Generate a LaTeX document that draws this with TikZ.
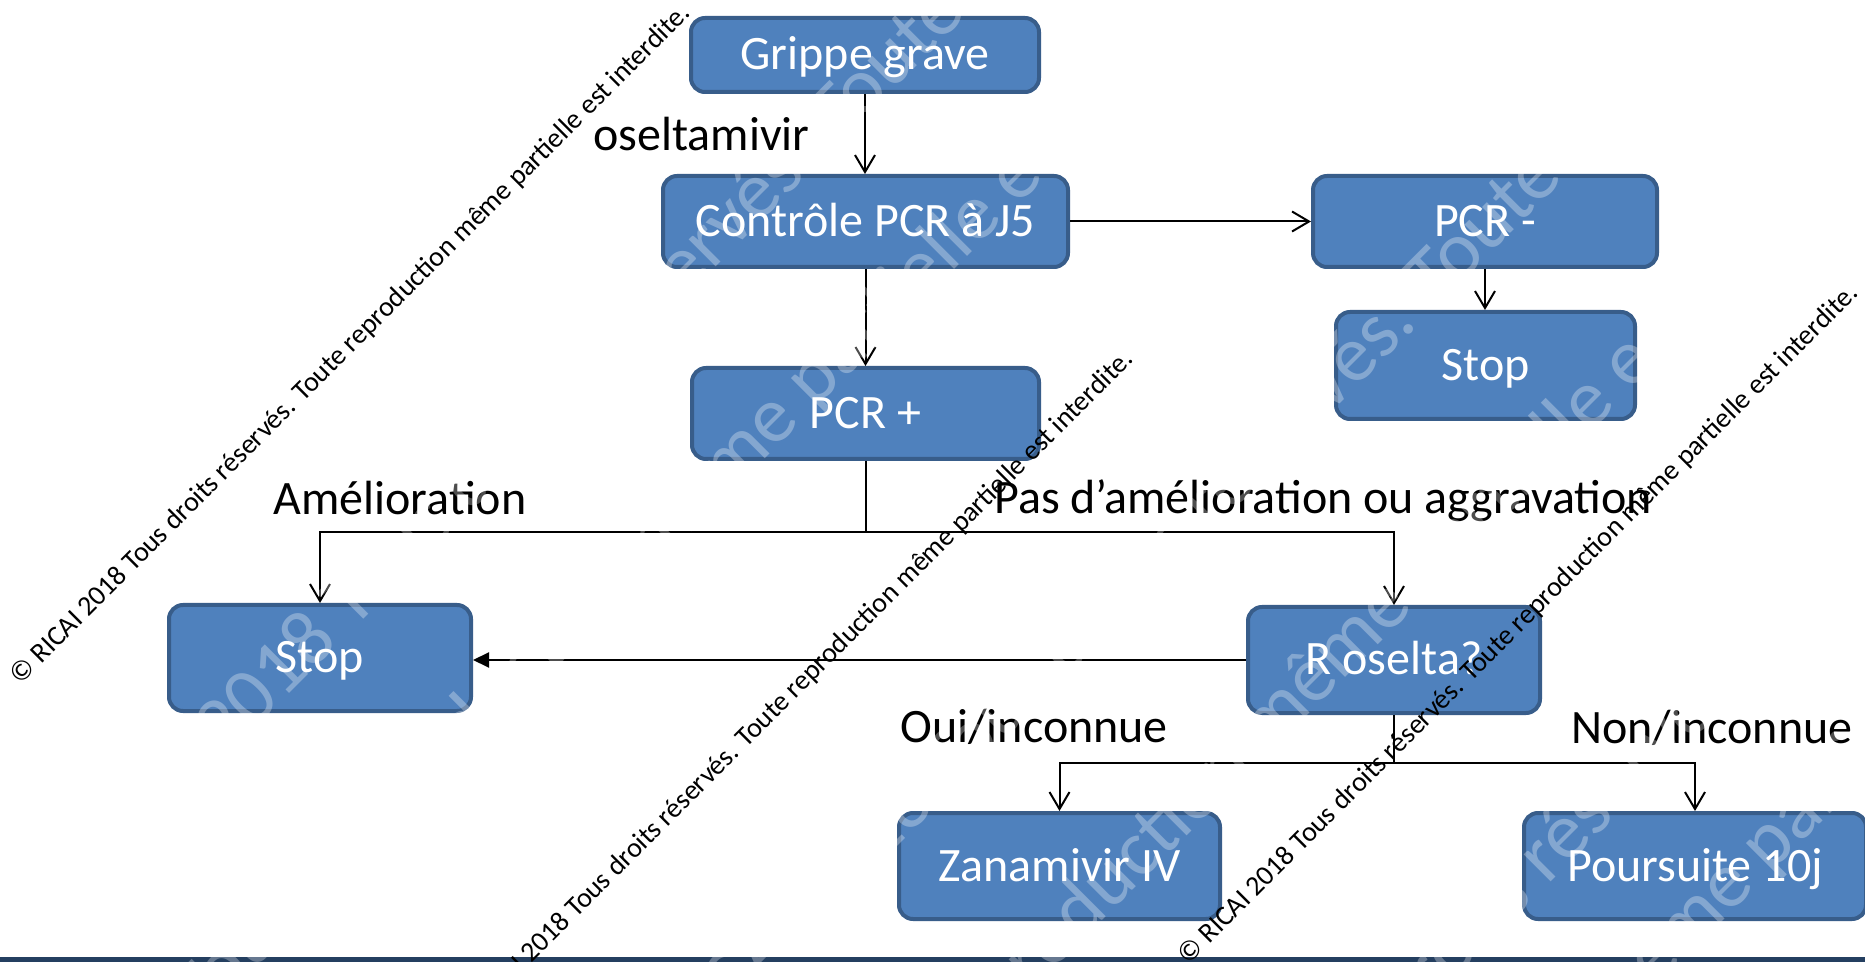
\documentclass[tikz,border=0pt]{standalone}
\usepackage{fontspec}
\setmainfont{Carlito}
\usetikzlibrary{arrows.meta}
\definecolor{boxfill}{HTML}{4F81BD}
\definecolor{boxline}{HTML}{385D8A}
\definecolor{band}{HTML}{243F60}
\tikzset{
  box/.style={draw=boxline, fill=boxfill, line width=2pt, rounded corners=7pt,
    text=white, font=\fontsize{24}{28}\selectfont, inner sep=0pt,
    text height=20pt, text depth=5pt, align=center},
  lbl/.style={font=\fontsize{24}{28}\selectfont, inner sep=0pt, anchor=base west},
  conn/.style={line width=1pt, -{Straight Barb[length=8.5pt,width=10pt]}},
  connf/.style={line width=1pt, -{Triangle[length=8pt,width=7.5pt]}},
  plain/.style={line width=1pt},
  wmbig/.style={rotate=45, anchor=base west, inner sep=0pt, text=white,
    text opacity=0.3, font=\fontsize{40}{48}\selectfont},
  wmsmall/.style={rotate=45, anchor=base west, inner sep=0pt, text=black,
    font=\fontsize{14}{17}\selectfont},
}
\newcommand{\wmtext}{© RICAI 2018 Tous droits réservés. Toute reproduction même partielle est interdite.}
\begin{document}
\begin{tikzpicture}[x=0.5pt,y=-0.5pt]
\useasboundingbox (0,0) rectangle (1865,962);
\clip (0,0) rectangle (1865,962);
\fill[white] (0,0) rectangle (1865,962);
\fill[band] (0,957) rectangle (1865,962);

% boxes
\node[box, minimum width=174pt, minimum height=37pt] (grippe) at (865,55) {Grippe grave};
\node[box, minimum width=202.5pt, minimum height=45.5pt] (ctrl) at (865.5,221.5) {Contrôle PCR à J5};
\node[box, minimum width=172pt, minimum height=45.5pt] (pcrm) at (1485,221.5) {PCR -};
\node[box, minimum width=149.5pt, minimum height=53.5pt] (stopr) at (1485.5,365.5) {Stop};
\node[box, minimum width=173.5pt, minimum height=45.5pt] (pcrp) at (865.5,413.5) {PCR +};
\node[box, minimum width=151pt, minimum height=53pt] (stopl) at (320,658) {Stop};
\node[box, minimum width=146pt, minimum height=53pt] (rosel) at (1394,660) {R oselta?};
\node[box, minimum width=160.5pt, minimum height=53pt] (zana) at (1059.5,866) {Zanamivir IV};
\node[box, minimum width=171pt, minimum height=53pt] (pours) at (1695,866) {Poursuite 10j};

% connectors
\draw[conn] (grippe.south) -- (grippe.south |- ctrl.north);
\draw[conn] (ctrl.east) -- (pcrm.west);
\draw[conn] (pcrm.south) -- (pcrm.south |- stopr.north);
\draw[conn] (ctrl.south) -- (ctrl.south |- pcrp.north);
\coordinate (j1) at (865.5,532);
\draw[plain] (pcrp.south) -- (j1);
\draw[conn] (j1) -| (stopl.north);
\draw[conn] (j1) -| (rosel.north);
\draw[connf] (rosel.west) -- (rosel.west -| stopl.east);
\coordinate (j2) at (1394,763);
\draw[plain] (rosel.south) -- (j2);
\draw[conn] (j2) -| (zana.north);
\draw[conn] (j2) -| (pours.north);

% labels
\node[lbl] (l1) at (593,151) {oseltamivir};
\node[lbl] (l2) at (273,515) {Amélioration};
\node[lbl] (l3) at (994,514) {Pas d’amélioration ou aggravation};
\node[lbl] (l4) at (900,742) {Oui/inconnue};
\node[lbl] (l5) at (1571,743) {Non/inconnue};

% large faint watermarks
\node[wmbig] (wa) at (-525,834) {\wmtext};
\node[wmbig] (wb) at (-1160,1714) {\wmtext};
\node[wmbig] (wc) at (30,953) {\wmtext};
\node[wmbig] (wd) at (-608,1832) {\wmtext};
\node[wmbig] (we) at (627,1117) {\wmtext};
\node[wmbig] (wf) at (5,2018) {\wmtext};
\node[wmbig] (wg) at (963,1470) {\wmtext};
\node[wmbig] (wh) at (347,2297) {\wmtext};

% small watermarks
\node[wmsmall] (s1) at (20,686) {\wmtext};
\node[wmsmall] (s2) at (463,1032) {\wmtext};
\node[wmsmall] (s3) at (1188,966) {\wmtext};
\end{tikzpicture}
\end{document}
